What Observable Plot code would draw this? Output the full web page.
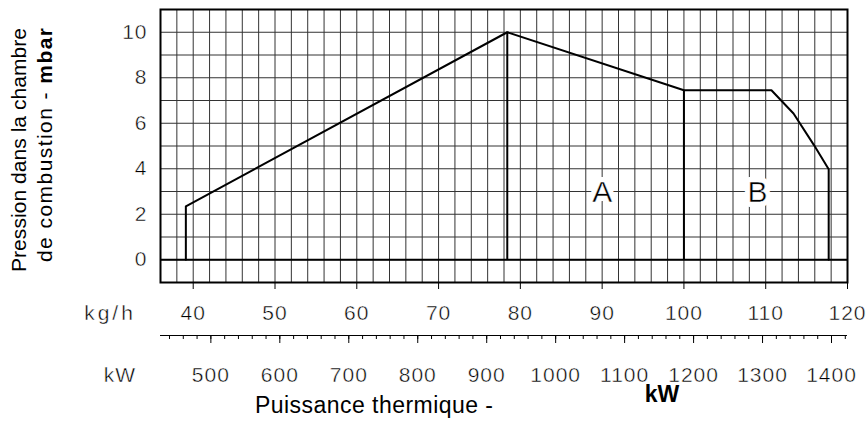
<!DOCTYPE html>
<html><head><meta charset="utf-8">
<script src="https://cdn.jsdelivr.net/npm/d3@7"></script>
<script src="https://cdn.jsdelivr.net/npm/@observablehq/plot@0.6"></script>
<style>
body{margin:0;background:#fff;}
#chart{width:866px;height:426px;}
svg text{font-family:"Liberation Sans",Arial,sans-serif;}
g[aria-label$="tick label"] text, text.thin{stroke:#fff;stroke-width:0.45px;paint-order:normal;letter-spacing:1px;}
</style></head><body><div id="chart"></div>
<script>
// Operating envelope (kg/h vs mbar)
const flowKgh      = [39.1, 39.1, 78.4, 100, 110.7, 113.4, 115.9, 117.7, 117.7];
const pressureMbar = [0,    2.35, 10,   7.45, 7.45, 6.43,  5.04,  3.98,  0];
// Zone dividers
const dividerKgh = [78.4, 100];
const dividerTop = [10, 7.45];
// Zone labels
const zoneNames = ["A", "B"];
const zoneKgh   = [90, 109];
const zoneMbar  = [2.95, 2.95];
// Axes
const kghTicks = [40, 50, 60, 70, 80, 90, 100, 110, 120];
const mbarTicks = [0, 2, 4, 6, 8, 10];
const kwTicks = [500, 600, 700, 800, 900, 1000, 1100, 1200, 1300, 1400];
const kwMinorTicks = d3.range(440, 1421, 20);
const gridKgh = d3.range(36, 121, 2);
const gridMbar = d3.range(-1, 12, 1);
const KW_PER_KGH = 11.86;

const envelope = flowKgh.map((x, i) => ({x, y: pressureMbar[i]}));
const dividers = dividerKgh.map((x, i) => ({x, top: dividerTop[i]}));
const zones = zoneNames.map((t, i) => ({t, x: zoneKgh[i], y: zoneMbar[i]}));

const plot = Plot.plot({
  width: 866, height: 426,
  marginLeft: 160, marginRight: 19, marginTop: 9, marginBottom: 144,
  style: {fontFamily: "Liberation Sans, Arial, sans-serif", fontSize: "21px", background: "white", overflow: "visible", color: "black"},
  x: {domain: [36, 120]},
  y: {domain: [-1, 11]},
  marks: [
    Plot.ruleX(gridKgh, {stroke: "#333", strokeWidth: 1}),
    Plot.ruleY(gridMbar, {stroke: "#333", strokeWidth: 1}),
    Plot.ruleY([0], {stroke: "#000", strokeWidth: 2}),
    Plot.line(envelope, {x: "x", y: "y", stroke: "#000", strokeWidth: 2}),
    Plot.ruleX(dividers, {x: "x", y1: 0, y2: "top", stroke: "#000", strokeWidth: 2}),
    Plot.text(zones, {x: "x", y: "y", text: "t", fontSize: 30, fill: "white", stroke: "white", strokeWidth: 10}),
    Plot.text(zones, {x: "x", y: "y", text: "t", fontSize: 30, fill: "black", stroke: "white", strokeWidth: 0.5, paintOrder: "normal"}),
    Plot.frame({stroke: "#000", strokeWidth: 2}),
    Plot.axisY(mbarTicks, {anchor: "left", tickSize: 0, tickPadding: 13, label: null, fontSize: 21}),
    Plot.axisX(kghTicks, {anchor: "bottom", tickSize: 7, tickPadding: 16, label: null, fontSize: 21}),
    Plot.ruleY([-1], {dy: 53, stroke: "#000", strokeWidth: 1}),
    Plot.axisX(kwMinorTicks.map(v => v / KW_PER_KGH), {anchor: "bottom", dy: 53, tickSize: 4, tickFormat: () => "", label: null}),
    Plot.axisX(kwTicks.map(v => v / KW_PER_KGH), {anchor: "bottom", dy: 53, tickSize: 8, tickPadding: 24, tickFormat: d => String(Math.round(d * KW_PER_KGH)), label: null, fontSize: 21})
  ]
});
document.getElementById("chart").appendChild(plot);

const svg = d3.select(plot);
svg.append("text")
  .attr("transform", "translate(26,28) rotate(-90)")
  .attr("text-anchor", "end").attr("font-size", 21)
  .attr("textLength", 244).attr("lengthAdjust", "spacing")
  .text("Pression dans la chambre");
const t2 = svg.append("text")
  .attr("transform", "translate(52,28) rotate(-90)")
  .attr("text-anchor", "end").attr("font-size", 21)
  .attr("textLength", 234).attr("lengthAdjust", "spacing");
t2.append("tspan").text("de combustion - ");
t2.append("tspan").attr("font-weight", "bold").text("mbar");

svg.append("text").attr("x", 374).attr("y", 413).attr("font-size", 23)
  .attr("textLength", 238).attr("lengthAdjust", "spacing")
  .text("Puissance thermique -");
svg.append("text").attr("x", 662).attr("y", 402).attr("font-size", 23)
  .attr("font-weight", "bold").attr("text-anchor", "middle").text("kW");
svg.append("text").attr("class", "thin").attr("x", 110).attr("y", 320)
  .attr("font-size", 21).attr("text-anchor", "middle").style("letter-spacing", "3px").text("kg/h");
svg.append("text").attr("class", "thin").attr("x", 120).attr("y", 382)
  .attr("font-size", 21).attr("text-anchor", "middle").text("kW");
</script></body></html>
